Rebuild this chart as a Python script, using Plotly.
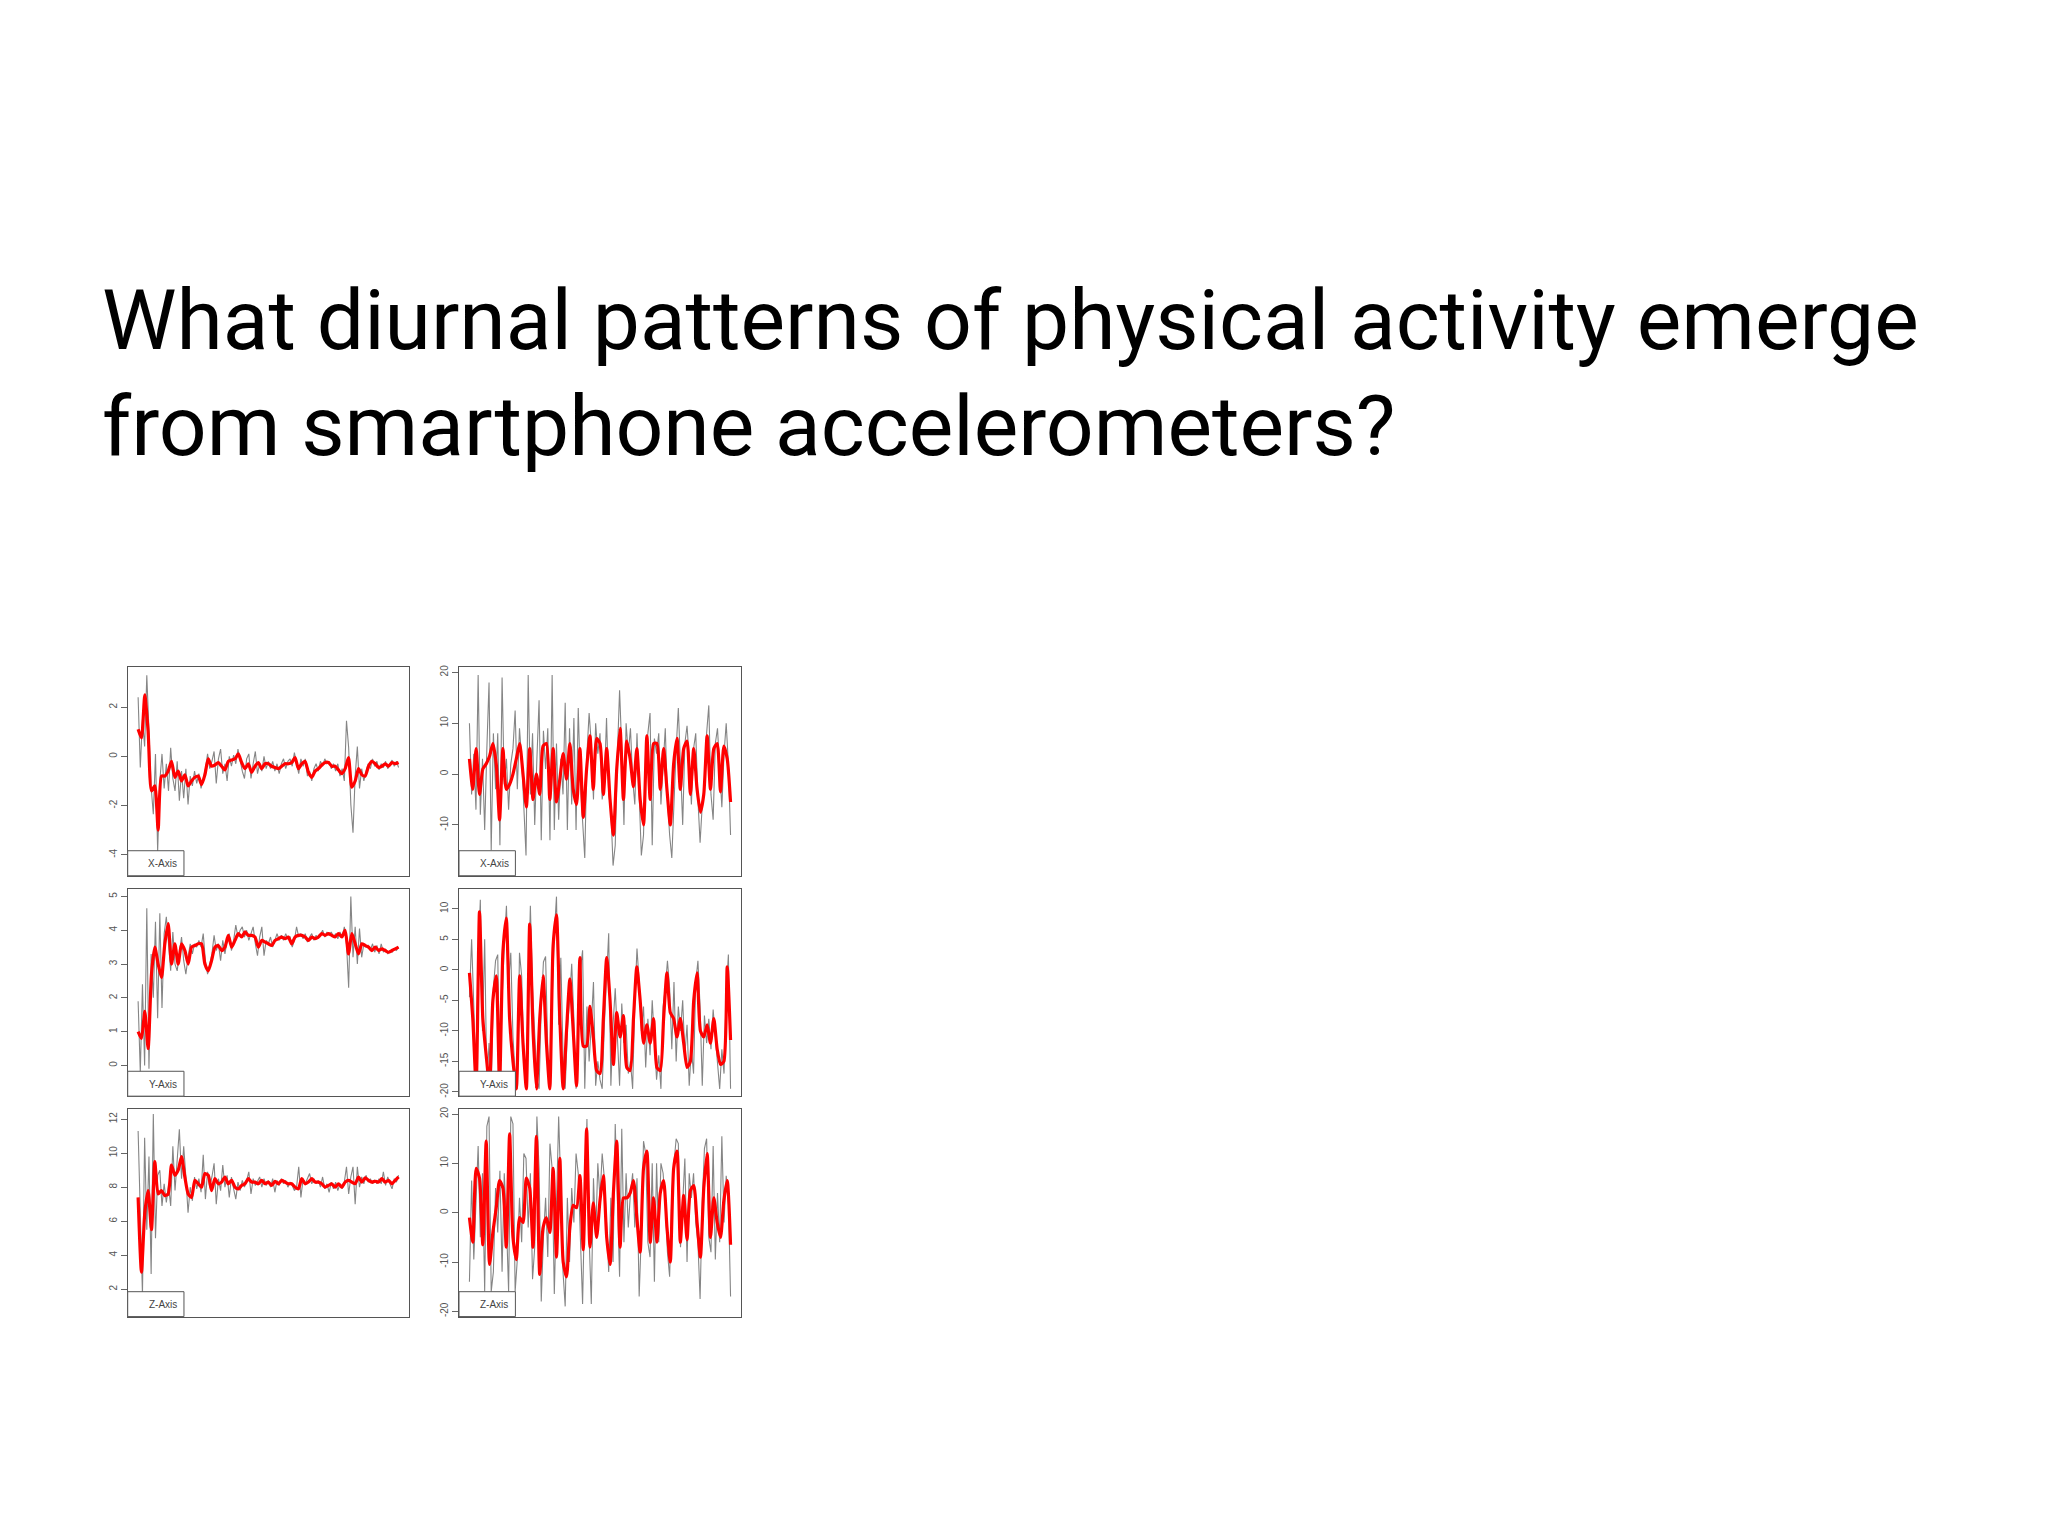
import numpy as np
import plotly.graph_objects as go

TITLE_LINES = ["What diurnal patterns of physical activity emerge",
               "from smartphone accelerometers?"]

# ---- Panel 1: X-Axis (left column, first series) ----
x_left_raw = [2.4, -0.45, 1.5, 0.4, 3.3, 0.8, -1.25, -2.35, 0.1, -3.85,
              -1.0, 0.1, -1.3, -0.3, -1.4, 0.35, -0.9, -1.4, -0.2, -1.8,
              -0.6, -1.7, -0.5, -1.95, -0.8, -1.2, -0.6, -1.1, -0.7, -1.3,
              -0.9, -0.5, 0.1, -0.5, -0.2, 0.2, -1.1, -0.1, 0.3, -0.7,
              -0.3, -1.0, 0.0, -0.4, 0.05, -0.3, 0.3, -0.2, -0.6, -0.9,
              -0.1, 0.1, -0.9, -0.3, 0.2, -0.7, -0.3, -0.6, 0.0, -0.5,
              -0.2, -0.5, -0.2, -0.6, -0.3, -0.7, -0.3, -0.1, -0.5, -0.2,
              -0.1, -0.4, 0.15, -0.3, -0.7, -0.1, -0.4, -0.1, -0.8, -0.6,
              -1.0, -0.5, -0.3, -0.6, -0.2, -0.4, -0.1, -0.3, -0.2, -0.5,
              -0.3, -0.6, -0.3, -0.8, -0.5, -1.0, 1.45, 0.35, -1.95, -3.1,
              -0.8, 0.4, -1.3, -0.5, -1.0, -0.6, -0.3, -0.5, -0.1, -0.4,
              -0.2, -0.55, -0.3, -0.45, -0.2, -0.5, -0.3, -0.15, -0.4, -0.2,
              -0.45]
x_left_smooth = [1.1, 0.75, 2.5, 1.0, -1.4, -1.2, -3.0, -0.8, -0.8, -0.6,
                 -0.2, -0.85, -0.6, -1.0, -0.75, -1.2, -1.0, -0.85, -0.8, -1.15,
                 -0.75, -0.1, -0.4, -0.35, -0.25, -0.4, -0.55, -0.2, -0.15, -0.1,
                 0.1, -0.25, -0.5, -0.3, -0.65, -0.4, -0.25, -0.5, -0.3, -0.3,
                 -0.4, -0.45, -0.5, -0.4, -0.3, -0.3, -0.25, -0.05, -0.5, -0.3,
                 -0.2, -0.65, -0.85, -0.6, -0.5, -0.35, -0.25, -0.25, -0.4, -0.4,
                 -0.55, -0.7, -0.5, -0.05, -1.25, -1.0, -0.5, -0.75, -0.8, -0.4,
                 -0.2, -0.3, -0.45, -0.4, -0.3, -0.4, -0.25, -0.3, -0.25]

# ---- Panel 2: X-Axis (right column) ----
x_right_raw = [10, -4, 4, -7, 19.5, -8, 3, -11, 5, 18,
               -15, 8, -3, 8, -14, 19, -2, 3, -7, 2,
               5, 12.5, -3, 9, 3, -8, -16, 19.5, -4, 8,
               -10, 3, 14.5, -13, 8.5, 1, 9, -13, 19.5, -11,
               6, -9, 3, -4, 14, -11, 9, -6, 11, -11,
               13, -2, -10, -16.5, 4, 12, 6, -5, 10, 4,
               8, -5, -2, 11, -4, -7, -18, -14, 4, 16.5,
               5, -10, 10, 4, 9, -1, -6, 8, -4, -16,
               -12, 5, 8, 12, -14, 7, 4, 8, -6, 3,
               9, -5, -12, -16.5, -4, 5, 13, 3, -10, 6,
               9.5, 3, -6, 5, 8, -5, -13.5, -6, -2, 8,
               13.5, -4, -9, 6, 9, 1, -6.5, 4, 10, 2,
               -12]
x_right_smooth = [3, -3, 5, -4, 1, 2, 3.5, 6, 2, -9,
                  5, -3, -2, 0, 3, 6, 0, -6.5, 5, -5,
                  0, -4, 5.5, 6, -5, 5, -5.5, -1, 4, -1,
                  6, -3, -6, 5, -8.5, 1, 7.5, -3, 7, 6,
                  -4, 5, -5, -12, 1, 9, -5, 6.5, 3, -2.5,
                  5, -5, -10, 7.5, -5, 6, 6, -3, 5, -3,
                  -10, 2, 7, -3, 5, 6.5, -4, 5, -3, -7.5,
                  -4, 7.5, -3, 5, 6, -3.5, 5.5, 3, -5.5]

# ---- Panel 3: Y-Axis (left column) ----
y_left_raw = [1.9, -0.2, 2.4, 0.0, 4.65, -0.1, 3.3, 2.0, 4.25, 1.4,
              4.5, 1.7, 3.9, 4.4, 3.6, 2.8, 3.95, 3.0, 2.8, 3.4,
              3.8, 3.1, 2.7, 3.2, 3.6, 3.3, 3.6, 3.5, 3.7, 3.5,
              3.9, 3.1, 2.7, 3.0, 3.3, 3.85, 3.4, 3.6, 3.1, 3.7,
              3.3, 3.7, 3.9, 3.4, 3.7, 4.15, 3.8, 4.0, 4.1, 3.8,
              4.0, 3.7, 3.9, 4.1, 3.6, 3.25, 3.8, 4.1, 3.25, 3.7,
              3.6, 3.8, 3.5, 3.7, 3.9, 3.7, 3.85, 3.7, 3.9, 3.75,
              3.8, 3.5, 3.7, 4.1, 3.8, 3.9, 3.75, 3.9, 3.65, 3.8,
              3.9, 3.7, 3.85, 3.75, 3.9, 4.0, 3.8, 3.95, 3.85, 3.95,
              3.8, 3.9, 3.75, 3.95, 3.8, 4.1, 3.6, 2.3, 5.0, 3.2,
              4.1, 3.0, 4.05, 3.2, 3.6, 3.5, 3.55, 3.4, 3.6, 3.35,
              3.55, 3.3, 3.6, 3.35, 3.45, 3.3, 3.4, 3.35, 3.45, 3.4,
              3.5]
y_left_smooth = [1.0, 0.8, 1.6, 0.5, 2.7, 3.5, 3.0, 2.6, 3.6, 4.2,
                 3.0, 3.6, 3.0, 3.6, 3.4, 3.0, 3.5, 3.55, 3.6, 3.6,
                 3.0, 2.8, 3.1, 3.5, 3.55, 3.4, 3.5, 3.85, 3.5, 3.7,
                 3.9, 3.8, 3.95, 3.85, 3.85, 3.8, 3.5, 3.7, 3.65, 3.6,
                 3.55, 3.7, 3.75, 3.8, 3.75, 3.8, 3.6, 3.8, 3.85, 3.85,
                 3.8, 3.7, 3.8, 3.75, 3.8, 3.9, 3.85, 3.9, 3.85, 3.8,
                 3.9, 3.8, 4.0, 3.3, 3.9, 3.6, 3.3, 3.6, 3.55, 3.5,
                 3.4, 3.5, 3.4, 3.45, 3.4, 3.35, 3.4, 3.45, 3.5]

# ---- Panel 4: Y-Axis (right column) ----
y_right_raw = [-4.5, 5, -6, -19, 2, 11.5, -10, 5, -19, -12,
               -19.5, -3, 1.5, 2.5, -19.5, -5, 4, 10.5, -2, 2.8,
               -11, -17, -19.5, 2.8, -1, -14, -19.5, -4, 10.5, -3,
               -12, -18, -19.5, -6, 1.3, 2.2, -13, -19.5, -5, 6,
               12, -9, 2, -14, -19.5, -10, -5, 1, -8, -19.5,
               -10, 0, 3.2, -19.5, -6, -15, -9, -2, -19, -15,
               -18, -19.5, -9, -2, 6, -19, -9, -3, -12, -19,
               -5.5, -12, -9, -17, -15, -19.5, -5, 3.5, -2, -10,
               -6, -16, -8, -14, -5, -11, -18, -14, -19.5, -6,
               -3, 1.5, -3, -13, -2, -15, -6, -10, -5, -14,
               -9, -19, -13, -17, -2, 1.5, -6, -19, -7.5, -12,
               -8, -13, -6.5, -11, -15, -19.5, -13, -17, -4, 2.5,
               -19.5]
y_right_smooth = [-0.5, -8, -19, 9.5, -8, -14, -19, -5, -1, -19,
                  3, 8.5, -8, -15, -19.5, -1, -12, -19.5, 7.5, -10,
                  -19.5, -8, -1, -12, -19.5, 4, 9, -8, -19.5, -10,
                  -1.5, -10, -19, 2, -12.5, -12.5, -6, -11, -16.5, -17,
                  -8, 2, -5, -15.5, -7, -11, -7.5, -16, -16.5, -8,
                  0.5, -5, -12, -9, -12, -8, -16, -16.5, -8, -0.5,
                  -7, -8, -11, -8, -12, -16, -15, -5, -0.5, -10,
                  -11, -9, -12, -8, -13, -15.5, -15, 0.5, -11.5]

# ---- Panel 5: Z-Axis (left column) ----
z_left_raw = [11.3, 6.0, 1.7, 10.9, 5.5, 9.8, 2.9, 12.3, 5.0, 8.7,
              9.0, 6.9, 8.2, 7.1, 8.1, 6.9, 10.4, 7.8, 9.5, 11.4,
              8.5, 10.4, 8.6, 6.5, 8.0, 7.2, 8.6, 7.9, 8.5, 7.7,
              9.9, 7.3, 8.9, 8.0, 8.6, 9.4, 7.0, 8.5, 7.8, 9.3,
              8.0, 8.7, 7.4, 8.6, 7.9, 7.3, 8.3, 7.8, 8.4, 8.0,
              8.4, 8.9, 7.6, 8.5, 8.1, 8.4, 8.6, 8.0, 8.5, 8.1,
              8.4, 8.0, 8.5, 7.7, 8.4, 8.1, 8.5, 8.2, 8.4, 8.0,
              8.3, 8.1, 7.8, 8.0, 9.2, 7.4, 8.5, 8.2, 8.5, 8.8,
              8.2, 8.5, 8.2, 8.4, 8.0, 8.6, 7.9, 8.2, 7.7, 8.3,
              7.9, 8.3, 7.8, 8.2, 7.9, 8.3, 9.2, 7.6, 8.6, 9.2,
              7.0, 9.2, 8.0, 8.6, 8.2, 8.7, 8.3, 8.5, 8.2, 8.4,
              8.2, 8.5, 8.2, 8.9, 8.1, 8.6, 8.2, 7.9, 8.5, 8.3,
              8.7]
z_left_smooth = [7.4, 3.0, 6.5, 7.8, 5.5, 9.5, 7.6, 7.8, 7.5, 7.6,
                 9.3, 8.7, 9.0, 9.8, 8.6, 7.6, 7.4, 8.4, 8.2, 8.0,
                 8.8, 8.7, 7.8, 8.5, 8.2, 8.3, 8.6, 8.2, 8.4, 8.0,
                 7.9, 8.1, 8.2, 8.5, 8.3, 8.3, 8.2, 8.4, 8.2, 8.3,
                 8.1, 8.35, 8.2, 8.4, 8.3, 8.2, 8.2, 8.0, 7.9, 8.5,
                 8.2, 8.3, 8.5, 8.3, 8.3, 8.2, 8.0, 8.1, 8.2, 8.0,
                 8.2, 8.0, 8.3, 8.4, 8.3, 8.2, 8.6, 8.3, 8.55, 8.4,
                 8.3, 8.35, 8.3, 8.5, 8.3, 8.4, 8.2, 8.4, 8.6]

# ---- Panel 6: Z-Axis (right column) ----
z_right_raw = [-14, 6.5, -9.5, 3, 13.5, -5, 8, -16, 17.5, 19.5,
               -16, -12, 5, -4, 8.5, -12, 8, -2, -16, 19.5,
               18, -16, -9.5, 3, -6, 12, 11, -3, 8, -13.5,
               -7, 19.5, 9, -18, -5, 3, -9, 14, 9, -16.5,
               2, 19.5, 5, -12, -19, 3, -10, 5, -2, 12,
               8, -5, -18.5, 3, 19, -5, -18.5, 7, -5, 10,
               3, 12, 7, -2, -12, 3, -10, 18, 3, -13,
               17, -6, 8, -3, 4, 8, -3, 7, -17, -4,
               14.5, 12, -6, -9, 10, -14, 10, -6, 10, 8,
               2, -8, -13, 4, 10, 15, 14, -7, 2, 11,
               -10, 8, 3, 8, -2, -6, -17.5, 2, 13, 15,
               -5, -8, 13.5, -9.5, 4, -6, 15.5, -2, 7.5, 3,
               -17]
z_right_smooth = [-1, -6, 9, 7, -6.5, 14.5, -10.5, -4, 1, 6.5,
                  5, -7, 16, -5, -9.5, -1, -2, 7, 5, -7,
                  15.5, -12.5, -3, -1, -4, 9, -9, 11, -10, -13,
                  -3, 1.5, 1, 7.5, -7.5, 17, -7, 2, -5, 2.5,
                  7.5, -5, -10.5, 4, 14.5, -7, 3, 3, 4, 6.5,
                  -1, -8, 9, 12.5, -6, 3, -6, 4, 6.5, -3,
                  -10, 9, 12.5, -6, 3.5, -5.5, 4.5, 5.5, -2, -9,
                  5, 12, -5, 3, -2, -5, 2.5, 6.5, -6.5]

panel_labels = ["X-Axis", "X-Axis", "Y-Axis", "Y-Axis", "Z-Axis", "Z-Axis"]
panel_ticks = [[-4, -2, 0, 2], [-10, 0, 10, 20], [0, 1, 2, 3, 4, 5],
               [-20, -15, -10, -5, 0, 5, 10], [2, 4, 6, 8, 10, 12],
               [-20, -10, 0, 10, 20]]
panel_ranges = [[-4.85, 3.62], [-20.0, 21.0], [-0.91, 5.23],
                [-20.7, 13.3], [0.39, 12.59], [-21.07, 21.0]]

raw_series = [x_left_raw, x_right_raw, y_left_raw, y_right_raw, z_left_raw, z_right_raw]
smooth_series = [x_left_smooth, x_right_smooth, y_left_smooth, y_right_smooth,
                 z_left_smooth, z_right_smooth]

W, H = 2048, 1535
OFF = 8  # page body margin
col_px = [(127.7, 409.0), (459.0, 741.0)]
row_px = [(666.0, 875.0), (888.0, 1096.0), (1109.0, 1317.0)]

fig = go.Figure()
layout = dict(width=W, height=H, margin=dict(l=0, r=0, t=0, b=0),
              paper_bgcolor="white", plot_bgcolor="white", showlegend=False)
shapes = []
annotations = []

for k in range(6):
    r, c = divmod(k, 2)
    xs = "" if k == 0 else str(k + 1)
    raw = raw_series[k]
    sm = smooth_series[k]
    n = len(raw)
    xr = np.arange(n)
    xsm = np.linspace(0, n - 1, len(sm))
    fig.add_trace(go.Scatter(x=xr, y=raw, mode="lines",
                             line=dict(color="#858585", width=1.1),
                             xaxis="x" + xs, yaxis="y" + xs, hoverinfo="skip"))
    fig.add_trace(go.Scatter(x=xsm, y=sm, mode="lines",
                             line=dict(color="#ff0000", width=3.2, shape="spline", smoothing=0.6),
                             xaxis="x" + xs, yaxis="y" + xs, hoverinfo="skip"))
    x0, x1 = col_px[c]
    y0, y1 = row_px[r]
    pad = 0.04 * (n - 1)
    layout["xaxis" + xs] = dict(domain=[(x0 - OFF) / W, (x1 - OFF) / W], anchor="y" + xs,
                               range=[-pad, n - 1 + pad], showgrid=False, zeroline=False,
                               showticklabels=False, ticks="", showline=True, mirror=True,
                               linecolor="#555555", linewidth=1)
    layout["yaxis" + xs] = dict(domain=[1 - (y1 - OFF) / H, 1 - (y0 - OFF) / H], anchor="x" + xs,
                               range=panel_ranges[k], showgrid=False, zeroline=False,
                               tickvals=panel_ticks[k], ticktext=[str(v) for v in panel_ticks[k]],
                               ticks="outside", ticklen=6, tickcolor="#666666", tickwidth=1,
                               tickangle=-90,
                               tickfont=dict(family="Liberation Sans, Arial", size=10, color="#555555"),
                               showline=True, mirror=True, linecolor="#555555", linewidth=1)
    shapes.append(dict(type="rect", xref="x" + xs + " domain", yref="y" + xs + " domain",
                       x0=0, x1=0.2, y0=0, y1=0.12, fillcolor="white",
                       line=dict(color="#555555", width=1), layer="above"))
    annotations.append(dict(text=panel_labels[k], xref="x" + xs + " domain",
                            yref="y" + xs + " domain", x=0.125, y=0.057, showarrow=False,
                            xanchor="center", yanchor="middle",
                            font=dict(family="Liberation Sans, Arial", size=10, color="#444444")))

title_y_px = [310, 417]
for i, line in enumerate(TITLE_LINES):
    annotations.append(dict(text=line, xref="paper", yref="paper", x=92 / W,
                            y=1 - title_y_px[i] / H, xanchor="left", yanchor="middle",
                            showarrow=False,
                            font=dict(family="Roboto", size=84, color="#000000")))

layout["shapes"] = shapes
layout["annotations"] = annotations
fig.update_layout(**layout)
fig.write_html("out.html")
